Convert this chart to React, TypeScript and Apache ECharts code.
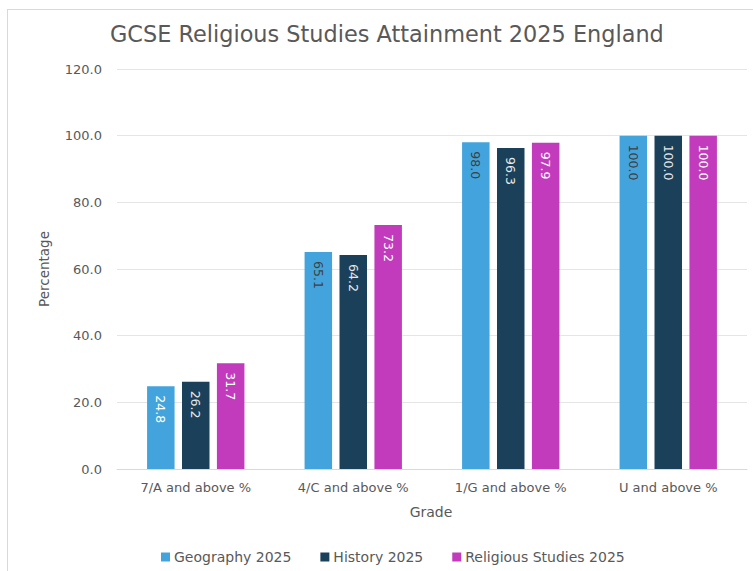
import React, { useEffect, useRef } from "react";
import * as echarts from "echarts";

const categories = ["7/A and above %", "4/C and above %", "1/G and above %", "U and above %"];
const geography = [24.8, 65.1, 98.0, 100.0];
const history = [26.2, 64.2, 96.3, 100.0];
const religious = [31.7, 73.2, 97.9, 100.0];
const seriesNames = ["Geography 2025", "History 2025", "Religious Studies 2025"];
const geographyLabelColors = ["#ffffff", "#404040", "#404040", "#404040"];

const FONT = "DejaVu Sans";
const GRAY = "#595959";

export default function App() {
  const ref = useRef<HTMLDivElement>(null);
  useEffect(() => {
    if (!ref.current) return;
    const chart = echarts.init(ref.current, undefined, { renderer: "svg" });
    const labelBase = {
      show: true,
      position: "insideTop",
      rotate: -90,
      align: "left",
      verticalAlign: "middle",
      distance: 9,
      fontFamily: FONT,
      fontSize: 12.5,
      formatter: (p: any) => Number(p.value).toFixed(1),
    };
    chart.setOption({
      animation: false,
      backgroundColor: "#ffffff",
      title: {
        text: "GCSE Religious Studies Attainment 2025 England",
        left: 110,
        top: 23,
        padding: 0,
        textStyle: { fontFamily: FONT, fontSize: 22.4, fontWeight: "normal", color: GRAY },
      },
      grid: { left: 117, right: 6, top: 69, bottom: 102, containLabel: false },
      legend: {
        data: seriesNames,
        left: 156,
        top: 545,
        icon: "rect",
        itemWidth: 9,
        itemHeight: 9,
        itemGap: 29,
        textStyle: { fontFamily: FONT, fontSize: 14, color: GRAY, padding: [0, 0, 0, -1] },
      },
      xAxis: {
        type: "category",
        data: categories,
        axisLine: { show: true, lineStyle: { color: "#d9d9d9" } },
        axisTick: { show: false },
        axisLabel: { margin: 12, fontFamily: FONT, fontSize: 13, color: GRAY },
      },
      yAxis: {
        type: "value",
        min: 0,
        max: 120,
        interval: 20,
        axisLine: { show: false },
        axisTick: { show: false },
        splitLine: { lineStyle: { color: "#e5e5e5" } },
        axisLabel: {
          margin: 15,
          fontFamily: FONT,
          fontSize: 13,
          color: GRAY,
          formatter: (v: number) => v.toFixed(1),
        },
      },
      graphic: [
        { type: "line", shape: { x1: 7.5, y1: 9, x2: 7.5, y2: 571 }, style: { stroke: "#d9d9d9", lineWidth: 1 } },
        { type: "line", shape: { x1: 7, y1: 9.5, x2: 753, y2: 9.5 }, style: { stroke: "#d9d9d9", lineWidth: 1 } },
        {
          type: "text",
          x: 44,
          y: 269,
          rotation: Math.PI / 2,
          style: { text: "Percentage", fontFamily: FONT, fontSize: 13.5, fill: GRAY, align: "center", verticalAlign: "middle" },
        },
        {
          type: "text",
          x: 431,
          y: 512,
          style: { text: "Grade", fontFamily: FONT, fontSize: 14, fill: GRAY, align: "center", verticalAlign: "middle" },
        },
      ],
      series: [
        {
          name: seriesNames[0],
          type: "bar",
          barWidth: 27.5,
          barGap: "27%",
          itemStyle: { color: "#43a4dd" },
          data: geography.map((v, i) => ({ value: v, label: { color: geographyLabelColors[i] } })),
          label: { ...labelBase },
        },
        {
          name: seriesNames[1],
          type: "bar",
          barWidth: 27.5,
          barGap: "27%",
          itemStyle: { color: "#1b405a" },
          data: history,
          label: { ...labelBase, color: "#e8e8e8" },
        },
        {
          name: seriesNames[2],
          type: "bar",
          barWidth: 27.5,
          barGap: "27%",
          itemStyle: { color: "#c23bbc" },
          data: religious,
          label: { ...labelBase, color: "#ffffff" },
        },
      ],
    });
    return () => chart.dispose();
  }, []);
  return (
    <div
      ref={ref}
      style={{ position: "fixed", left: 0, top: 0, width: 753, height: 571 }}
    />
  );
}
